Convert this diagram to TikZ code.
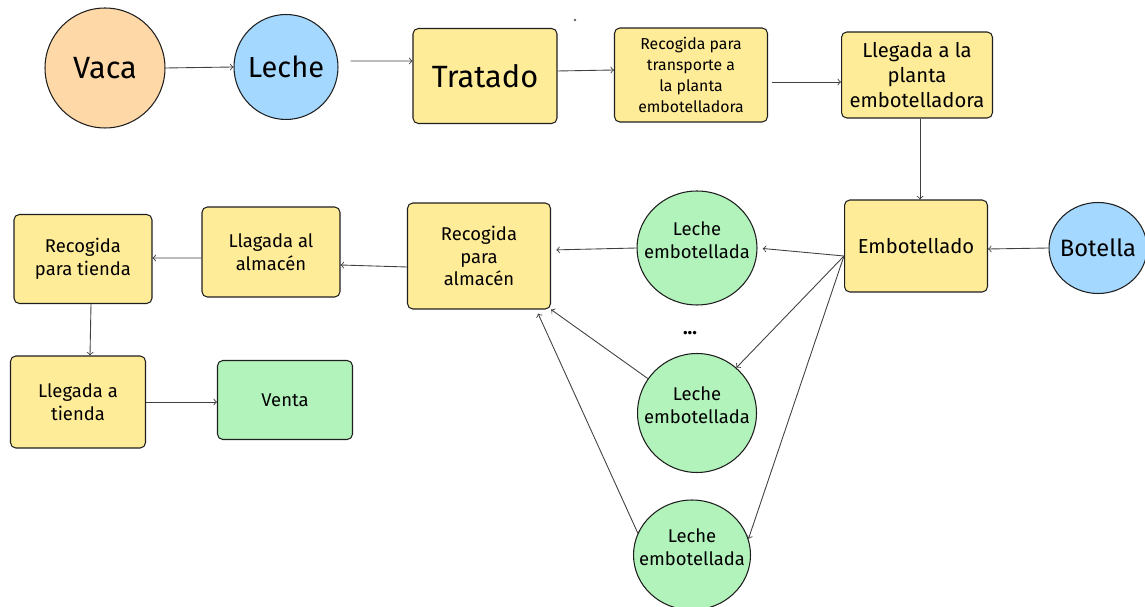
\documentclass[tikz,border=0pt]{standalone}
\usepackage{fontspec}
\setmainfont{Fira Sans}
\usepackage{tikz}
\usetikzlibrary{shapes.geometric}
\definecolor{vacaorange}{HTML}{FFD8A8}
\definecolor{lecheblue}{HTML}{A5D8FF}
\definecolor{pasoyellow}{HTML}{FFEC99}
\definecolor{ventagreen}{HTML}{B2F2BB}
\definecolor{trazo}{HTML}{1E1E1E}

\tikzset{
  paso/.style={draw=trazo, line width=0.6pt, fill=pasoyellow, rounded corners=3pt,
    align=center, inner sep=2pt, font=\fontsize{10.5}{13}\selectfont},
  bola/.style={ellipse, draw=trazo, line width=0.6pt, align=center, inner sep=0pt},
  botellada/.style={bola, fill=ventagreen,
    label={[align=center, yshift=0.16cm, font=\fontsize{10.5}{13}\selectfont]center:Leche\\embotellada}},
  flecha/.style={->, draw=trazo!85, line width=0.5pt}
}

\begin{document}
\begin{tikzpicture}[x=0.02cm, y=-0.02cm]

\useasboundingbox (0,0) rectangle (1145,607);

% --- Fila superior: de la vaca a la planta ---

\node[bola, fill=vacaorange, minimum width=2.4cm, minimum height=2.4cm,
  font=\fontsize{17.5}{20}\selectfont] (vaca) at (105,68) {Vaca};
\node[bola, fill=lecheblue, minimum width=2.08cm, minimum height=2.1cm,
  font=\fontsize{16.5}{20}\selectfont, inner xsep=-0.1cm] (leche) at (286,67) {Leche};
\node[paso, minimum width=2.88cm, minimum height=1.9cm,
  font=\fontsize{17.5}{20}\selectfont] (tratado) at (485,76) {Tratado};
\node[paso, minimum width=3.06cm, minimum height=1.88cm,
  font=\fontsize{9}{12}\selectfont] (transporte) at (691,75)
  {Recogida para\\transporte a\\la planta\\embotelladora};
\node[paso, minimum width=3.02cm, minimum height=1.72cm,
  font=\fontsize{11.5}{14}\selectfont] (llegplanta) at (917,75)
  {Llegada a la\\planta\\embotelladora};

% stray dot
\fill[trazo!70] (575,20) circle (1.3);

% --- Embotellado ---

\node[paso, minimum width=2.86cm, minimum height=1.84cm,
  font=\fontsize{11.5}{14}\selectfont] (embot) at (916,246) {Embotellado};
\node[bola, fill=lecheblue, minimum width=1.96cm, minimum height=1.82cm,
  font=\fontsize{13.5}{16}\selectfont, inner xsep=-0.12cm] (botella) at (1098,248) {Botella};

% Leche embotellada
\node[botellada, minimum width=2.4cm, minimum height=2.28cm] (le1) at (697,248) {};
\node[font=\bfseries\fontsize{11}{13}\selectfont] (puntos) at (690,333) {...};
\node[botellada, minimum width=2.38cm, minimum height=2.38cm] (le2) at (697,413) {};
\node[botellada, minimum width=2.34cm, minimum height=2.2cm] (le3) at (692,555) {};

% --- Fila inferior: almacen y tienda ---

\node[paso, minimum width=2.86cm, minimum height=2.12cm] (almacen) at (479,256)
  {Recogida\\para\\almacén};
\node[paso, minimum width=2.76cm, minimum height=1.8cm] (llalmacen) at (271,252)
  {Llagada al\\almacén};
\node[paso, minimum width=2.76cm, minimum height=1.78cm] (rtienda) at (83,259)
  {Recogida\\para tienda};
\node[paso, minimum width=2.7cm, minimum height=1.84cm] (lltienda) at (78,402)
  {Llegada a\\tienda};
\node[paso, fill=ventagreen, minimum width=2.7cm, minimum height=1.58cm] (venta) at (285,400)
  {Venta};

% --- Flechas ---

\draw[flecha] (vaca.east) -- (leche.west);
\draw[flecha] ([xshift=0.24cm,yshift=0.12cm]leche.east) -- ([yshift=0.3cm]tratado.west);
\draw[flecha] ([yshift=0.1cm]tratado.east) -- ([yshift=0.1cm]transporte.west);
\draw[flecha] ([xshift=0.08cm,yshift=-0.14cm]transporte.east) -- ([yshift=-0.14cm]llegplanta.west);
\draw[flecha] ([xshift=0.06cm]llegplanta.south) -- ([xshift=0.08cm]embot.north);
\draw[flecha] (botella.west) -- ([yshift=-0.06cm]embot.east);

\draw[flecha, shorten >=3pt] ([yshift=-0.2cm]embot.west) -- (le1.east);
\draw[flecha] ([yshift=-0.2cm]embot.west) -- (le2.49);
\draw[flecha] ([yshift=-0.2cm]embot.west) -- (le3.16);

\draw[flecha, shorten >=3pt] (le1.west) -- ([yshift=0.12cm]almacen.east);
\draw[flecha] (le2.145) -- (almacen.south east);
\draw[flecha] (le3.158) -- ([xshift=-0.26cm,yshift=-0.08cm]almacen.south east);

\draw[flecha] ([yshift=-0.22cm]almacen.west) -- ([yshift=-0.26cm]llalmacen.east);
\draw[flecha] ([yshift=-0.12cm]llalmacen.west) -- ([yshift=0.02cm]rtienda.east);
\draw[flecha] ([xshift=0.16cm]rtienda.south) -- ([xshift=0.24cm]lltienda.north);
\draw[flecha] (lltienda.east) -- (lltienda.east -| venta.west);

\end{tikzpicture}
\end{document}
